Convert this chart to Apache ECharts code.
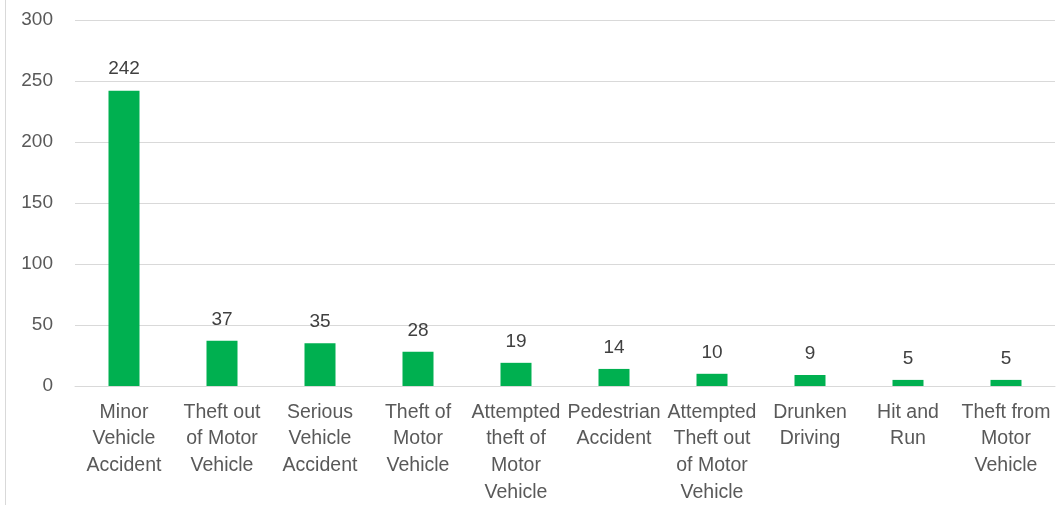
<!DOCTYPE html>
<html>
<head>
<meta charset="utf-8">
<script src="https://cdn.jsdelivr.net/npm/echarts@6/dist/echarts.min.js"></script>
<style>html,body{margin:0;padding:0;background:#fff;}#c{width:1061px;height:505px;}</style>
</head>
<body>
<div id="c"></div>
<script>
const categories = ["Minor Vehicle Accident","Theft out of Motor Vehicle","Serious Vehicle Accident","Theft of Motor Vehicle","Attempted theft of Motor Vehicle","Pedestrian Accident","Attempted Theft out of Motor Vehicle","Drunken Driving","Hit and Run","Theft from Motor Vehicle"];
const tickLabels = ["Minor\nVehicle\nAccident","Theft out\nof Motor\nVehicle","Serious\nVehicle\nAccident","Theft of\nMotor\nVehicle","Attempted\ntheft of\nMotor\nVehicle","Pedestrian\nAccident","Attempted\nTheft out\nof Motor\nVehicle","Drunken\nDriving","Hit and\nRun","Theft from\nMotor\nVehicle"];
const values = [242,37,35,28,19,14,10,9,5,5];
const yTicks = {min:0, max:300, interval:50};

const chart = echarts.init(document.getElementById('c'));
chart.setOption({
  animation:false,
  graphic:[{type:'line',shape:{x1:5.5,y1:0,x2:5.5,y2:505},style:{stroke:'#D9D9D9',lineWidth:1}}],
  grid:{left:75,right:6,top:20,bottom:119,containLabel:false,outerBoundsMode:'none'},
  xAxis:{type:'category',data:categories,
    axisLine:{lineStyle:{color:'#D9D9D9',width:1}},axisTick:{show:false},
    axisLabel:{interval:0,color:'#595959',fontFamily:'Liberation Sans',fontSize:19.5,lineHeight:26.7,margin:13,
      formatter:(v,i)=>tickLabels[i]}},
  yAxis:{type:'value',min:yTicks.min,max:yTicks.max,interval:yTicks.interval,
    axisLine:{show:false},axisTick:{show:false},
    splitLine:{lineStyle:{color:'#D9D9D9',width:1}},
    axisLabel:{color:'#595959',fontFamily:'Liberation Sans',fontSize:19,margin:22}},
  series:[{type:'bar',data:values,barWidth:31,itemStyle:{color:'#00B050'},
    label:{show:true,position:'top',distance:12,color:'#404040',fontFamily:'Liberation Sans',fontSize:19}}]
});
</script>
</body>
</html>
